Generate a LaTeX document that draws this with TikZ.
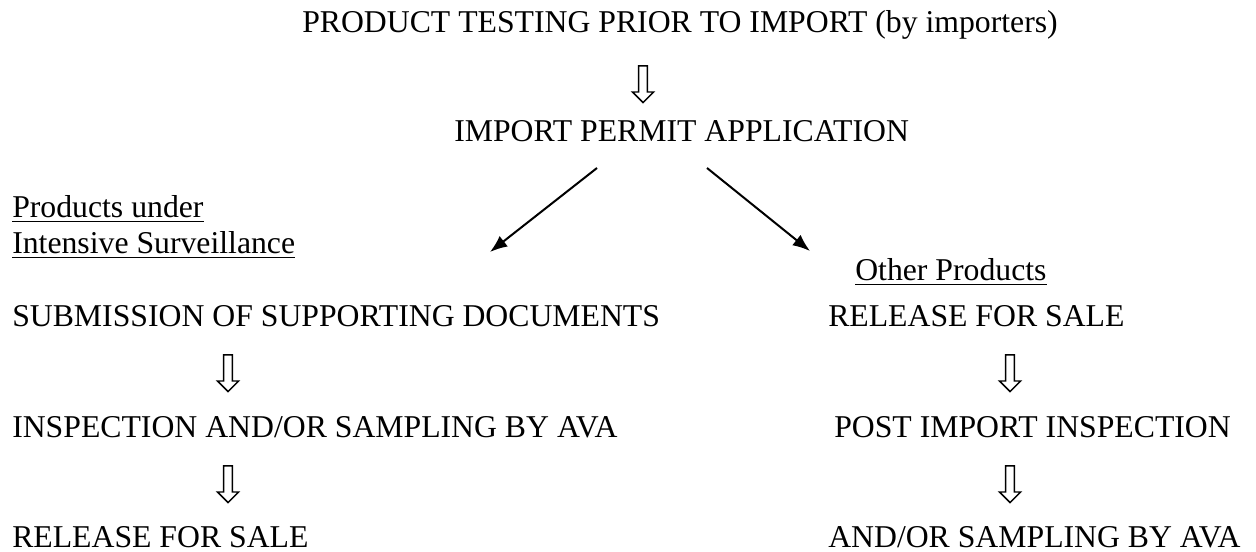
\documentclass[tikz,border=0pt]{standalone}
\usepackage{fontspec}
\setmainfont{Liberation Serif}
\usetikzlibrary{shapes.arrows,arrows.meta}
\begin{document}
\begin{tikzpicture}[x=0.75pt,y=-0.75pt,
  txt/.style={inner sep=0pt,anchor=base west,font=\fontsize{23.8}{28}\selectfont},
  hollow/.style={single arrow,draw,line width=1.1pt,rotate=-90,inner sep=0pt,
    text height=5.5pt,text depth=0pt,text width=0pt,
    minimum height=27.5pt,single arrow head extend=4.6pt,
    single arrow head indent=0pt,single arrow tip angle=90},
  uline/.style={line width=1.1pt},
  diag/.style={-{Latex[length=13pt,width=10pt]},line width=1.5pt}]
\useasboundingbox (0,0) rectangle (1256,552);
\node[txt] (title) at (302,33) {PRODUCT TESTING PRIOR TO IMPORT (by importers)};
\node[txt] (ipa) at (454,142) {IMPORT PERMIT APPLICATION};
\node[txt] (pu) at (12,218) {Products under};
\node[txt] (is) at (12,254) {Intensive Surveillance};
\node[txt] (op) at (855,281) {Other Products};
\node[txt] (sub) at (12,326) {SUBMISSION OF SUPPORTING DOCUMENTS};
\node[txt] (rfs1) at (828,326) {RELEASE FOR SALE};
\node[txt] (insp) at (12,437) {INSPECTION AND/OR SAMPLING BY AVA};
\node[txt] (post) at (834,437) {POST IMPORT INSPECTION};
\node[txt] (rfs2) at (12,547) {RELEASE FOR SALE};
\node[txt] (samp) at (828,547) {AND/OR SAMPLING BY AVA};
\foreach \n in {pu,is,op}
  \draw[uline] ([yshift=-2.6pt]\n.base west) -- ([yshift=-2.6pt]\n.base east);
\node[hollow] (a1) at (643,82) {};
\node[hollow] (a2) at (228,371) {};
\node[hollow] (a3) at (228,482) {};
\node[hollow] (a4) at (1010,371) {};
\node[hollow] (a5) at (1010,482) {};
\coordinate (l0) at (597,168);
\coordinate (l1) at (490,252);
\coordinate (r0) at (707,168);
\coordinate (r1) at (810,251);
\draw[diag] (l0) -- (l1);
\draw[diag] (r0) -- (r1);
\end{tikzpicture}
\end{document}
